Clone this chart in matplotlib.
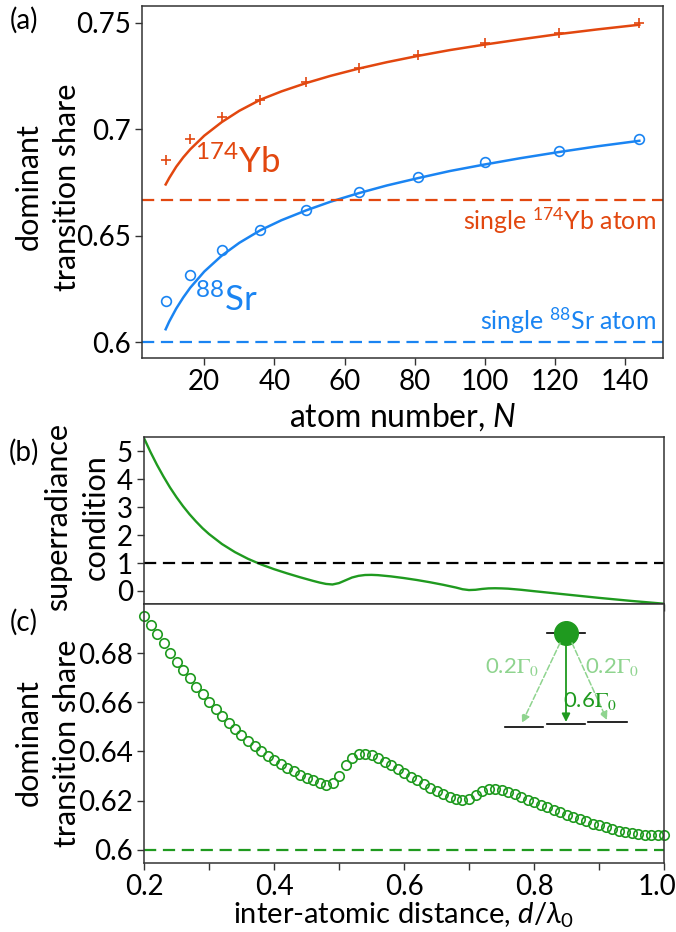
import numpy as np
import matplotlib
matplotlib.use("Agg")
import matplotlib.pyplot as plt
from matplotlib.ticker import MultipleLocator
from matplotlib.transforms import ScaledTranslation

plt.rcParams['font.family'] = ['Lato', 'DejaVu Sans']
plt.rcParams['mathtext.fontset'] = 'custom'
plt.rcParams['mathtext.rm'] = 'Lato'
plt.rcParams['mathtext.it'] = 'Lato:italic'
plt.rcParams['axes.unicode_minus'] = False

# ---- data ----
# (a) dominant transition share vs atom number
atom_n = [9, 16, 25, 36, 49, 64, 81, 100, 121, 144]
yb_share = [0.6853, 0.6953, 0.7056, 0.7138, 0.7219, 0.7286, 0.7347, 0.7403, 0.7453, 0.7500]
sr_share = [0.6195, 0.6313, 0.6431, 0.6525, 0.6622, 0.6703, 0.6775, 0.6844, 0.6899, 0.6953]

fit_n = [9, 10, 12, 14, 16, 20, 25, 30, 36, 42, 49, 56, 64, 72, 81, 90, 100, 110, 121, 132, 144]
yb_fit = [0.6740, 0.6770, 0.6823, 0.6867, 0.6905, 0.6969, 0.7033, 0.7086, 0.7138, 0.7177,
          0.7216, 0.7250, 0.7284, 0.7314, 0.7344, 0.7371, 0.7397, 0.7421, 0.7446, 0.7468,
          0.7490]
sr_fit = [0.6060, 0.6096, 0.6157, 0.6209, 0.6255, 0.6331, 0.6406, 0.6466, 0.6525, 0.6572,
          0.6618, 0.6659, 0.6699, 0.6735, 0.6770, 0.6803, 0.6834, 0.6863, 0.6892, 0.6919,
          0.6945]
yb_single = 2 / 3
sr_single = 0.6

# (b) superradiance condition vs d/lambda0
cond_d = [0.20, 0.21, 0.22, 0.23, 0.24, 0.25, 0.26, 0.27, 0.28, 0.29, 0.30, 0.32, 0.34,
          0.36, 0.38, 0.40, 0.42, 0.44, 0.46, 0.47, 0.48, 0.49, 0.50, 0.51, 0.52, 0.53,
          0.54, 0.55, 0.56, 0.58, 0.60, 0.62, 0.64, 0.66, 0.68, 0.69, 0.70, 0.71, 0.72,
          0.73, 0.74, 0.75, 0.76, 0.78, 0.80, 0.85, 0.90, 0.95, 1.00]
cond_val = [5.48, 4.98, 4.52, 4.10, 3.71, 3.36, 3.04, 2.75, 2.49, 2.25, 2.04, 1.68, 1.39,
            1.15, 0.95, 0.78, 0.63, 0.49, 0.36, 0.30, 0.25, 0.23, 0.28, 0.38, 0.48, 0.54,
            0.57, 0.575, 0.565, 0.52, 0.46, 0.39, 0.31, 0.22, 0.12, 0.06, 0.03, 0.04, 0.07,
            0.09, 0.095, 0.09, 0.08, 0.04, -0.01, -0.13, -0.25, -0.36, -0.46]

# (c) dominant transition share vs d/lambda0
dist = np.linspace(0.2, 1.0, 81)
share_c = [0.6952, 0.6915, 0.6878, 0.6840, 0.6802, 0.6766, 0.6731, 0.6697, 0.6664, 0.6632,
           0.6601, 0.6572, 0.6544, 0.6517, 0.6491, 0.6467, 0.6444, 0.6422, 0.6402, 0.6383,
           0.6366, 0.6350, 0.6334, 0.6320, 0.6306, 0.6293, 0.6282, 0.6272, 0.6265, 0.6270,
           0.6300, 0.6343, 0.6375, 0.6388, 0.6390, 0.6384, 0.6372, 0.6358, 0.6343, 0.6328,
           0.6313, 0.6297, 0.6282, 0.6267, 0.6252, 0.6238, 0.6226, 0.6215, 0.6206, 0.6202,
           0.6206, 0.6222, 0.6240, 0.6248, 0.6249, 0.6244, 0.6236, 0.6226, 0.6215, 0.6204,
           0.6194, 0.6183, 0.6172, 0.6162, 0.6152, 0.6143, 0.6133, 0.6124, 0.6115, 0.6106,
           0.6099, 0.6092, 0.6085, 0.6078, 0.6072, 0.6068, 0.6063, 0.6060, 0.6058, 0.6058,
           0.6061]

YB = '#e2470f'
SR = '#1a84f2'
GREEN = '#1f9a1f'
LIGHT = '#8fd48f'
FS = 20
LFS = 22
DASH = (5.5, 3)

W, H = 676, 932


def fpos(x, y):
    return x / W, 1 - y / H


fig = plt.figure(figsize=(W / 100, H / 100), dpi=100)
ax_a = fig.add_axes([142 / W, 1 - 358 / H, 521 / W, 352 / H])
ax_b = fig.add_axes([144 / W, 1 - 604 / H, 520 / W, 167 / H])
ax_c = fig.add_axes([144 / W, 1 - 863 / H, 520 / W, 259 / H])

for ax in (ax_a, ax_b, ax_c):
    for s in ax.spines.values():
        s.set_color('#333333')
        s.set_linewidth(1.1)
    ax.tick_params(labelsize=FS, length=5, width=1, pad=3, color='#333333')
    ax.tick_params(which='minor', length=5, width=1, color='#333333')

# ---- (a) ----
ax_a.plot(fit_n, yb_fit, color=YB, lw=1.8)
ax_a.plot(fit_n, sr_fit, color=SR, lw=1.8)
ax_a.plot(atom_n, yb_share, '+', color=YB, ms=7, mew=1.2)
ax_a.plot(atom_n, sr_share, 'o', color=SR, ms=7, mfc='none', mew=1.2)
ax_a.axhline(yb_single, color=YB, ls='--', lw=1.6, dashes=DASH)
ax_a.axhline(sr_single, color=SR, ls='--', lw=1.6, dashes=DASH)
ax_a.set_xlim(2.25, 150.75)
ax_a.set_ylim(0.5925, 0.7578)
ax_a.set_yticks([0.6, 0.65, 0.7, 0.75])
ax_a.set_yticklabels(['0.6', '0.65', '0.7', '0.75'])
ax_a.set_xticks([20, 40, 60, 80, 100, 120, 140])
ax_a.set_xlabel('atom number, $\\mathit{N}$', fontsize=23, labelpad=4)
ax_a.text(17.3, 0.6795, r'$^{174}$Yb', color=YB, fontsize=25, va='baseline')
ax_a.text(17.3, 0.6145, r'$^{88}$Sr', color=SR, fontsize=25, va='baseline')
ax_a.text(0.986, 0.365, r'single $^{174}$Yb atom', color=YB, fontsize=18,
          transform=ax_a.transAxes, ha='right', va='baseline')
ax_a.text(0.986, 0.08, r'single $^{88}$Sr atom', color=SR, fontsize=18,
          transform=ax_a.transAxes, ha='right', va='baseline')

# ---- (b) ----
ax_b.plot(cond_d, cond_val, color=GREEN, lw=1.7)
ax_b.axhline(1, color='black', ls='--', lw=1.6, dashes=DASH)
ax_b.set_xlim(0.2, 1.0)
ax_b.set_ylim(-0.47, 5.52)
ax_b.set_yticks([0, 1, 2, 3, 4, 5])
ax_b.xaxis.set_major_locator(MultipleLocator(0.1))
ax_b.tick_params(axis='x', labelbottom=False)

# ---- (c) ----
ax_c.plot(dist, share_c, 'o', color=GREEN, ms=6.8, mfc='none', mew=1.2, clip_on=False)
ax_c.axhline(0.6, color=GREEN, ls='--', lw=1.6, dashes=DASH)
ax_c.set_xlim(0.2, 1.0)
ax_c.set_ylim(0.5946, 0.7)
ax_c.set_yticks([0.6, 0.62, 0.64, 0.66, 0.68])
ax_c.set_yticklabels(['0.6', '0.62', '0.64', '0.66', '0.68'])
ax_c.set_xticks([0.2, 0.4, 0.6, 0.8, 1.0])
ax_c.set_xticklabels(['0.2', '0.4', '0.6', '0.8', '1.0'])
ax_c.xaxis.set_minor_locator(MultipleLocator(0.1))
ax_c.set_xlabel('inter-atomic distance, $\\mathit{d}/\\lambda_0$', fontsize=21, labelpad=0)
last = ax_c.get_xticklabels()[-1]
last.set_transform(last.get_transform() + ScaledTranslation(-7 / 100, 0, fig.dpi_scale_trans))

# ---- panel labels and y labels ----
fig.text(*fpos(24, 20), '(a)', fontsize=FS, ha='center', va='center')
fig.text(*fpos(24, 452), '(b)', fontsize=FS, ha='center', va='center')
fig.text(*fpos(24, 622), '(c)', fontsize=FS, ha='center', va='center')
ylab = dict(fontsize=LFS, rotation=90, ha='center', va='center',
            multialignment='center', linespacing=1.45)
fig.text(*fpos(48, 187), 'dominant\ntransition share', **ylab)
fig.text(*fpos(77, 517), 'superradiance\ncondition', **ylab)
fig.text(*fpos(48, 743), 'dominant\ntransition share', **ylab)

# ---- inset level scheme in (c) ----
ins = fig.add_axes([0, 0, 1, 1], facecolor='none')
ins.set_xlim(0, W)
ins.set_ylim(H, 0)
ins.axis('off')
ins.plot([547, 585], [633, 633], color='black', lw=1.2)
ins.plot([505, 543], [727, 727], color='black', lw=1.2)
ins.plot([547, 585], [724, 724], color='black', lw=1.2)
ins.plot([588, 627], [722, 722], color='black', lw=1.2)
ins.annotate('', xy=(522, 723), xytext=(560, 643),
             arrowprops=dict(arrowstyle='-|>', color=LIGHT, lw=1.1, ls='--',
                             shrinkA=0, shrinkB=0, mutation_scale=12))
ins.annotate('', xy=(607, 720), xytext=(572, 643),
             arrowprops=dict(arrowstyle='-|>', color=LIGHT, lw=1.1, ls='--',
                             shrinkA=0, shrinkB=0, mutation_scale=12))
ins.annotate('', xy=(566, 722), xytext=(566, 643),
             arrowprops=dict(arrowstyle='-|>', color=GREEN, lw=1.3,
                             shrinkA=0, shrinkB=0, mutation_scale=12))
ins.plot([566], [633], 'o', color=GREEN, ms=17)
ins.text(512, 667, r'0.2$\Gamma_0$', color=LIGHT, fontsize=16, ha='center', va='center',
         math_fontfamily='stix')
ins.text(612, 667, r'0.2$\Gamma_0$', color=LIGHT, fontsize=16, ha='center', va='center',
         math_fontfamily='stix')
ins.text(590, 701, r'0.6$\Gamma_0$', color=GREEN, fontsize=16, ha='center', va='center',
         math_fontfamily='stix')

fig.savefig('out.png', dpi=100)
